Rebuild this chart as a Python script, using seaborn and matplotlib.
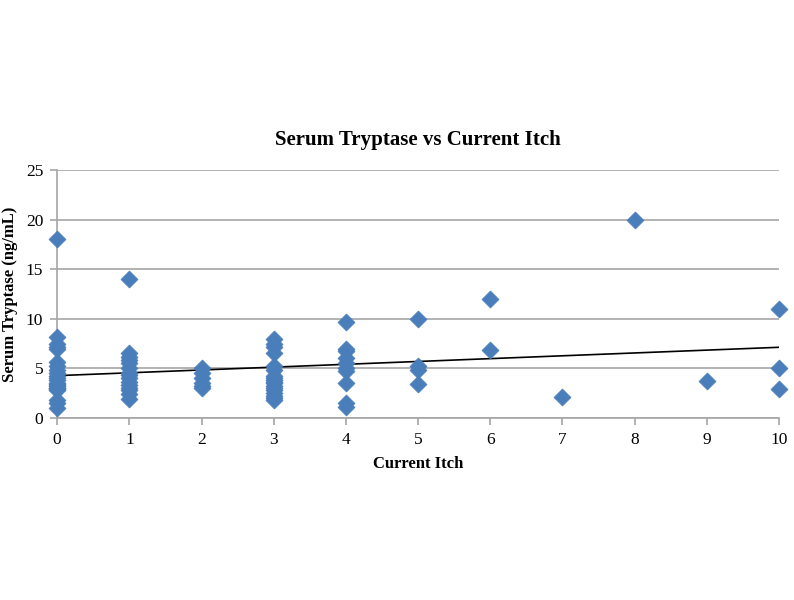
import numpy as np
import pandas as pd
import matplotlib
matplotlib.use("Agg")
import matplotlib.pyplot as plt
import seaborn as sns

# Data (dense columns have overlapping markers)
itch_0 = [18, 8.2, 7.5, 7.2, 7.0, 5.6, 5.2, 4.8, 4.5, 4.2, 4.0, 3.8, 3.5, 3.2, 3.0, 1.8, 1.5, 1.0,
          2.8, 3.0, 3.3, 3.0, 2.9, 3.4]
itch_1 = [14, 6.6, 6.2, 5.8, 5.5, 5.0, 4.5, 4.3, 3.6, 3.0, 2.8, 1.9, 3.3, 4.0, 2.4]
itch_2 = [5.0, 4.5, 4.0, 3.5, 3.2, 3.0]
itch_3 = [8.0, 7.5, 7.2, 6.6, 5.2, 4.8, 4.2, 3.8, 3.5, 3.0, 2.8, 2.5, 2.0, 1.8, 3.2, 4.0, 2.2, 3.6]
itch_4 = [9.7, 7.0, 6.8, 6.0, 5.5, 5.0, 4.7, 3.5, 1.5, 1.1]
itch_5 = [10.0, 5.2, 4.8, 3.4]
itch_6 = [12.0, 6.9]
itch_7 = [2.1]
itch_8 = [20.0]
itch_9 = [3.7]
itch_10 = [11.0, 5.0, 2.9]

columns = [itch_0, itch_1, itch_2, itch_3, itch_4, itch_5,
           itch_6, itch_7, itch_8, itch_9, itch_10]
x_ticks = list(range(0, 11))
y_ticks = [0, 5, 10, 15, 20, 25]

rows = []
for itch, vals in zip(x_ticks, columns):
    for v in vals:
        rows.append({"Current Itch": itch, "Serum Tryptase": v})
df = pd.DataFrame(rows)

sns.set_style("white")
plt.rcParams['font.family'] = ['Liberation Serif', 'DejaVu Serif']
plt.rcParams['text.color'] = 'black'
plt.rcParams['axes.labelcolor'] = 'black'

fig = plt.figure(figsize=(7.94, 6.0), dpi=100)
ax = fig.add_axes([0.072, 0.3033, 0.909, 0.4134])

ax.set_axisbelow(True)
ax.yaxis.grid(True, color="#a6a6a6", linewidth=1.2)

sns.scatterplot(data=df, x="Current Itch", y="Serum Tryptase", marker="D",
                s=75, color="#4a7ebb", edgecolor="#4a7ebb", linewidth=0.5,
                ax=ax, zorder=3, clip_on=False)
sns.regplot(data=df, x="Current Itch", y="Serum Tryptase", scatter=False,
            ci=None, truncate=False, color="black",
            line_kws={"linewidth": 1.2}, ax=ax)

ax.set_xlim(0, 10)
ax.set_ylim(0, 25)
ax.set_xticks(x_ticks)
ax.set_yticks(y_ticks)

for side in ["top", "right"]:
    ax.spines[side].set_visible(False)
for side in ["left", "bottom"]:
    ax.spines[side].set_color("#a6a6a6")
    ax.spines[side].set_linewidth(1.2)

ax.tick_params(axis="both", which="both", direction="out", length=5,
               color="#a6a6a6", width=1.2, labelsize=12.5, pad=5,
               labelcolor="black", bottom=True, left=True)

ax.set_xlabel("Current Itch", fontsize=12, fontweight="bold", labelpad=6)
ax.set_ylabel("Serum Tryptase (ng/mL)", fontsize=12, fontweight="bold", labelpad=6)
ax.set_title("Serum Tryptase vs Current Itch", fontsize=15, fontweight="bold", pad=18)

fig.savefig("out.png", dpi=100)
